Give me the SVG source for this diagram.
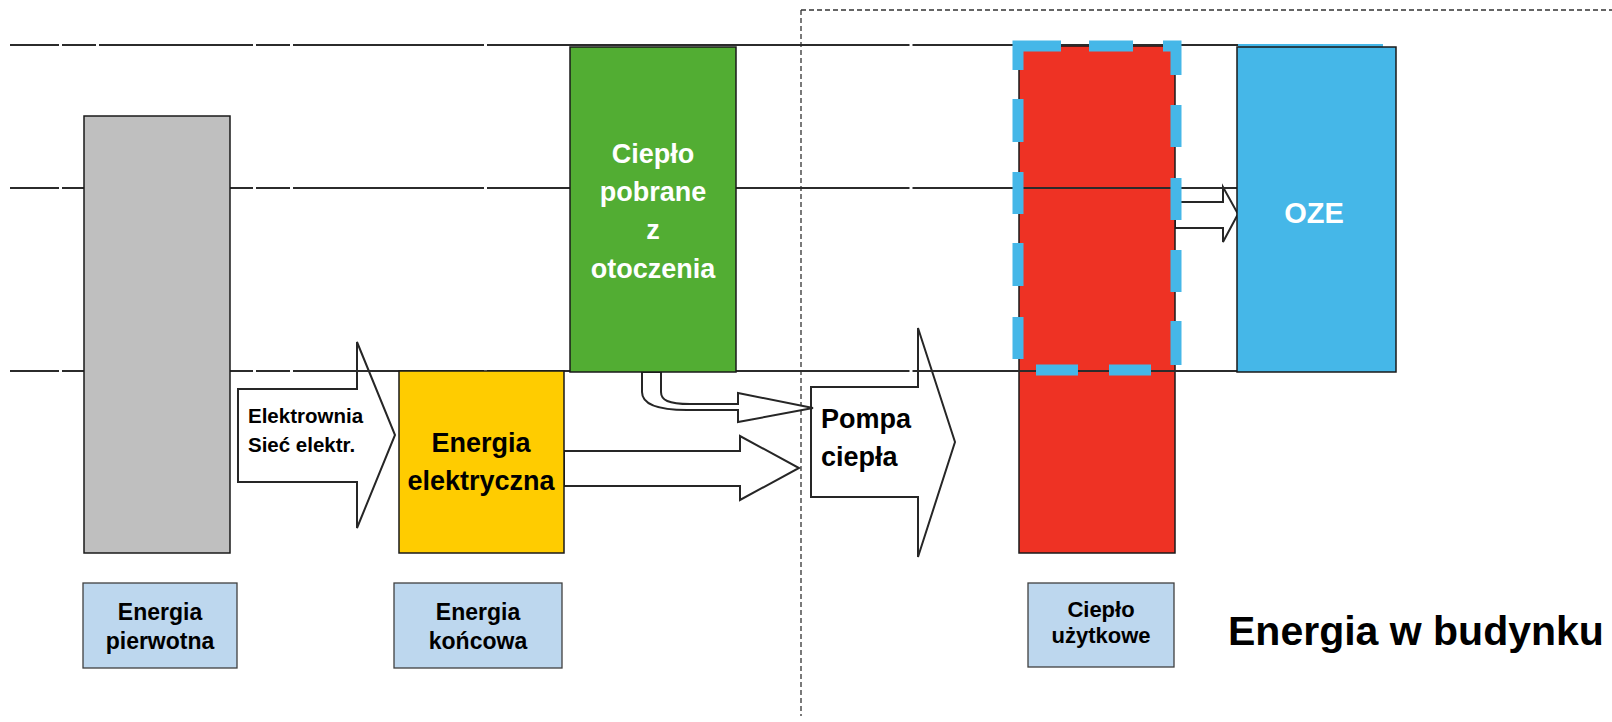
<svg xmlns="http://www.w3.org/2000/svg" width="1612" height="722" viewBox="0 0 1612 722">
  <style>
    text { font-family: "Liberation Sans", Arial, sans-serif; font-weight: bold; }
    .box { stroke: #1a1a1a; stroke-width: 1.5; }
    .label { fill: #bdd7ee; stroke: #404040; stroke-width: 1.3; }
    .arrow { fill: #ffffff; stroke: #262626; stroke-width: 2; stroke-linejoin: miter; }
    .level { fill: none; stroke: #2b2b2b; stroke-width: 2; }
    .border { fill: none; stroke: #333333; stroke-width: 1.3; stroke-dasharray: 5 3; }
    .dash { fill: none; stroke: #45b7e8; stroke-width: 11; stroke-linecap: butt; stroke-linejoin: miter; }
    .w { fill: #ffffff; }
    .k { fill: #000000; }
    .mid { text-anchor: middle; }
  </style>

  <rect width="1612" height="722" fill="#ffffff"/>

  <!-- building boundary -->
  <path class="border" d="M801,10 V716 M801,10 H1612"/>

  <!-- flows between the energy stages -->
  <g id="connectors">
    <polygon id="arrow-plant" class="arrow" points="238,389 357,389 357,342 395,435 357,528 357,482 238,482"/>
    <polygon id="arrow-electric" class="arrow" points="564,451 740,451 740,436 799,468 740,500 740,486 564,486"/>
    <polygon id="arrow-pump" class="arrow" points="811,387 918,387 918,328 955,442 918,557 918,497 811,497"/>
    <polygon id="arrow-oze" class="arrow" points="1175,202 1223,202 1223,187 1238,214 1223,242 1223,228 1175,228"/>
    <path id="arrow-ambient" class="arrow" d="M642,372 V392 C642,404 656,410 687,410 H738 V422 L813,408 L738,393 V404 H690 C668,404 661,400 661,392 V372 Z"/>
  </g>

  <!-- useful heat column sits under the level lines -->
  <g id="node-useful-heat">
    <rect class="box" x="1019" y="46" width="156" height="507" fill="#ee3224"/>
  </g>

  <!-- level lines -->
  <g id="levels">
    <path class="level" d="M10,45 H59 M62,45 H96 M99,45 H253 M256,45 H290 M293,45 H484 M487,45 H909.5 M912.5,45 H1238"/>
    <path class="level" d="M10,188 H59 M62,188 H96 M99,188 H253 M256,188 H290 M293,188 H484 M487,188 H909.5 M912.5,188 H1238"/>
    <path class="level" d="M10,371 H59 M62,371 H96 M99,371 H253 M256,371 H290 M293,371 H484 M487,371 H909.5 M912.5,371 H1238"/>
  </g>

  <g id="node-primary">
    <rect class="box" x="84" y="116" width="146" height="437" fill="#bfbfbf"/>
  </g>

  <g id="node-ambient">
    <rect class="box" x="570" y="47" width="166" height="325" fill="#52ad33"/>
    <text class="w mid" font-size="27" x="653" y="163">Ciepło</text>
    <text class="w mid" font-size="27" x="653" y="201">pobrane</text>
    <text class="w mid" font-size="27" x="653" y="239">z</text>
    <text class="w mid" font-size="27" x="653" y="278">otoczenia</text>
  </g>

  <g id="node-electric">
    <rect class="box" x="399" y="371" width="165" height="182" fill="#ffcc00"/>
    <text class="k mid" font-size="27" x="481" y="452">Energia</text>
    <text class="k mid" font-size="27" x="481" y="490">elektryczna</text>
  </g>

  <g id="node-oze">
    <rect x="1238" y="44" width="145" height="4" fill="#45b7e8"/>
    <rect class="box" x="1237" y="47" width="159" height="325" fill="#45b7e8"/>
    <text class="w mid" font-size="29" x="1314" y="223">OZE</text>
  </g>

  <!-- renewable share of the useful heat -->
  <g id="node-oze-share">
    <path class="dash" d="M1018,70 V46 H1061"/>
    <path class="dash" d="M1089,46 H1133"/>
    <path class="dash" d="M1163,46 H1176 V75"/>
    <path class="dash" d="M1176,105 V147 M1176,178 V220 M1176,250 V292 M1176,321 V365"/>
    <path class="dash" d="M1018,99 V142 M1018,172 V214 M1018,243 V286 M1018,317 V359"/>
    <path class="dash" d="M1036,370 H1078 M1109,370 H1151"/>
  </g>

  <!-- arrow captions -->
  <g id="caption-plant">
    <text class="k" font-size="20.5" x="248" y="423">Elektrownia</text>
    <text class="k" font-size="20.5" x="248" y="452">Sieć elektr.</text>
  </g>
  <g id="caption-pump">
    <text class="k" font-size="27" x="821" y="428">Pompa</text>
    <text class="k" font-size="27" x="821" y="466">ciepła</text>
  </g>

  <!-- stage labels -->
  <g id="label-primary">
    <rect class="label" x="83" y="583" width="154" height="85"/>
    <text class="k mid" font-size="23" x="160" y="620">Energia</text>
    <text class="k mid" font-size="23" x="160" y="649">pierwotna</text>
  </g>
  <g id="label-final">
    <rect class="label" x="394" y="583" width="168" height="85"/>
    <text class="k mid" font-size="23" x="478" y="620">Energia</text>
    <text class="k mid" font-size="23" x="478" y="649">końcowa</text>
  </g>
  <g id="label-useful">
    <rect class="label" x="1028" y="583" width="146" height="84"/>
    <text class="k mid" font-size="22" x="1101" y="617">Ciepło</text>
    <text class="k mid" font-size="22" x="1101" y="643">użytkowe</text>
  </g>
  <g id="title-building">
    <text class="k" font-size="41" x="1228" y="645">Energia w budynku</text>
  </g>
</svg>
